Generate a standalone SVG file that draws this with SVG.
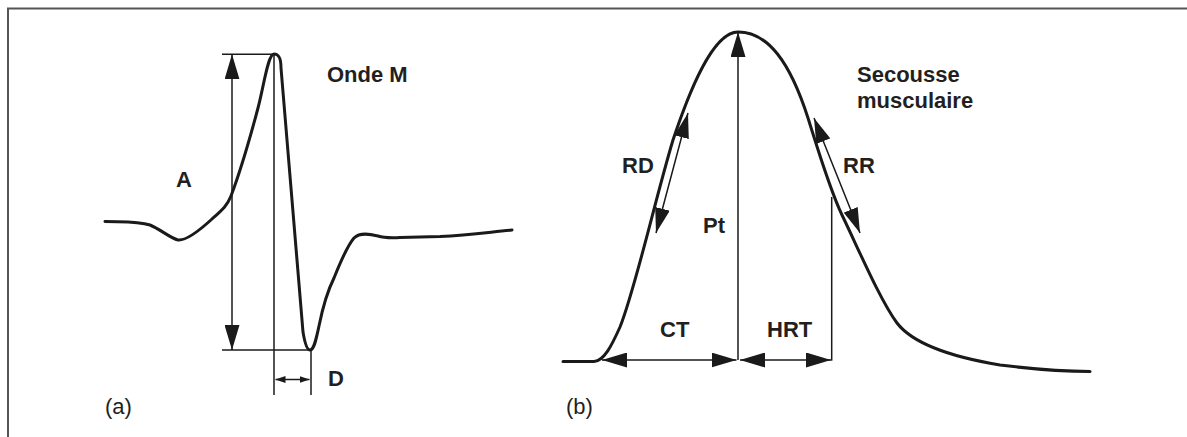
<svg xmlns="http://www.w3.org/2000/svg" width="1187" height="437" viewBox="0 0 1187 437">
<style>
.lbl{font-family:"Liberation Sans",Arial,sans-serif;font-weight:bold;font-size:22px;fill:#231f20}
.pl{font-family:"Liberation Sans",Arial,sans-serif;font-size:22px;fill:#231f20}
.curve{fill:none;stroke:#1a1a1a;stroke-width:3;stroke-linejoin:round;stroke-linecap:round}
.thin{fill:none;stroke:#1a1a1a;stroke-width:1.5}
.dim{fill:none;stroke:#1a1a1a;stroke-width:1.5;marker-start:url(#ah);marker-end:url(#ah)}
.dimS{fill:none;stroke:#1a1a1a;stroke-width:1.3;marker-start:url(#ahs);marker-end:url(#ahs)}
</style>
<defs>
<marker id="ah" viewBox="0 0 25 15" refX="25" refY="7.5" markerWidth="25" markerHeight="15" markerUnits="userSpaceOnUse" orient="auto-start-reverse">
<path d="M0,0 L25,7.5 L0,15 z" fill="#1a1a1a"/>
</marker>
<marker id="ahs" viewBox="0 0 10 7" refX="10" refY="3.5" markerWidth="10" markerHeight="7" markerUnits="userSpaceOnUse" orient="auto-start-reverse">
<path d="M0,0 L10,3.5 L0,7 z" fill="#1a1a1a"/>
</marker>
</defs>
<rect width="1187" height="437" fill="#fff"/>
<g id="frame">
<path d="M8,437 V8.5 H1187" fill="none" stroke="#555" stroke-width="2"/>
</g>
<g id="panel-a">
<g id="onde-m-curve">
<path class="curve" d="M105,221.5 C125,222 138,221 150,225 C160,229 170,238 178,240 C186,241 200,230 212,219 C222,210 227,206 231,196 C240,172 250,138 258,108 C264,85 268,54 274,54 C279,54 281,58 281,68 L303,332 C305,344 307,350 310,350 C314,350 316,340 319,326 C323,306 328,290 334,278 C342,258 348,245 354,238 C360,232 370,234 378,236 C384,238 390,238 400,237.5 L440,236.5 C470,235 490,232 512,230"/>
</g>
<g id="connectors-a">
<line class="thin" x1="222" y1="54.3" x2="274" y2="54.3"/>
<line class="thin" x1="222" y1="350" x2="310" y2="350"/>
<line class="dim" x1="232" y1="54.3" x2="232" y2="350"/>
<line class="thin" x1="274" y1="54" x2="274" y2="395"/>
<line class="thin" x1="311" y1="350" x2="311" y2="395"/>
<line class="dimS" x1="275.5" y1="379.5" x2="309.5" y2="379.5"/>
</g>
<g id="labels-a">
<text class="lbl" x="327" y="82">Onde M</text>
<text class="lbl" x="176" y="187">A</text>
<text class="lbl" x="328" y="386">D</text>
<text class="pl" x="105" y="414">(a)</text>
</g>
</g>
<g id="panel-b">
<g id="secousse-curve">
<path class="curve" d="M563,361.5 L594,361.5 C604,361 612,345 620,327 C635,290 655,200 673,140 C688,95 712,32 738,32 C768,32 790,62 808,118 C818,150 830,190 842,215 C858,248 880,300 897,323 C910,340 940,355 1000,365 C1040,370 1070,371.5 1090,371.5"/>
</g>
<g id="connectors-b">
<line class="dim" x1="738" y1="360" x2="738" y2="32" style="marker-start:none"/>
<line class="dim" x1="602" y1="360" x2="736.5" y2="360"/>
<line class="dim" x1="740" y1="360" x2="831" y2="360"/>
<line class="thin" x1="831.7" y1="360.7" x2="831.7" y2="197"/>
<line class="dim" x1="688" y1="113" x2="656" y2="233"/>
<line class="dim" x1="814" y1="118" x2="860" y2="233"/>
</g>
<g id="labels-b">
<text class="lbl" x="857" y="82">Secousse</text>
<text class="lbl" x="857" y="108">musculaire</text>
<text class="lbl" x="622" y="173">RD</text>
<text class="lbl" x="843" y="173">RR</text>
<text class="lbl" x="703" y="233">Pt</text>
<text class="lbl" x="660" y="337">CT</text>
<text class="lbl" x="767" y="337">HRT</text>
<text class="pl" x="566" y="414">(b)</text>
</g>
</g>
</svg>
